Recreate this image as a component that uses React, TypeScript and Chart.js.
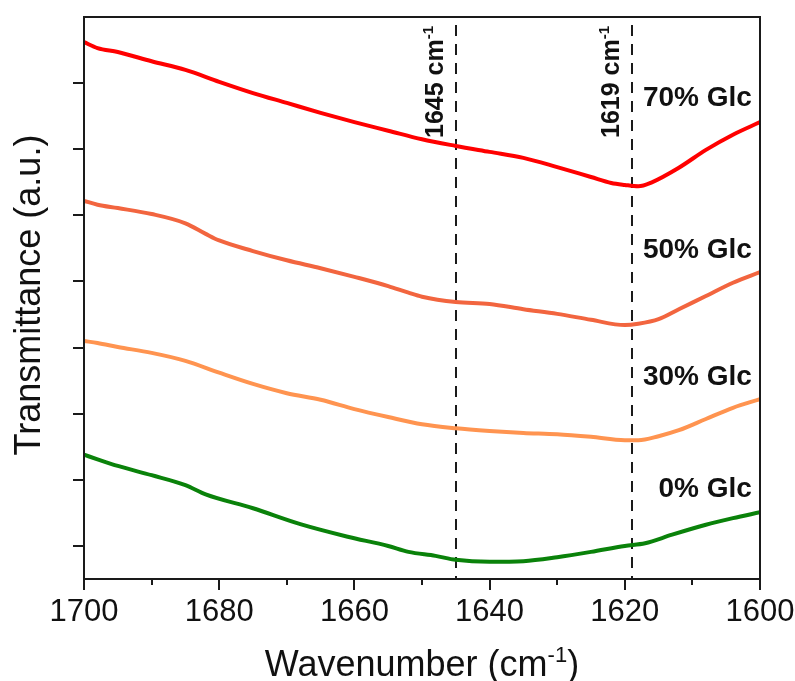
import React, { useEffect, useRef } from "react";
import { Chart, registerables } from "chart.js";

Chart.register(...registerables);

const FONT = "'Liberation Sans', Arial, Helvetica, sans-serif";

// FTIR spectra, amide I region (transmittance, arbitrary offset units)
const wn70 = [1700, 1698, 1695, 1690, 1685, 1680, 1675, 1670, 1665, 1660, 1655, 1650, 1645, 1640, 1635, 1630, 1625, 1622, 1620, 1618, 1616, 1612, 1608, 1604, 1600];
const t70 = [7.62, 7.53, 7.47, 7.33, 7.2, 7.02, 6.85, 6.7, 6.55, 6.41, 6.28, 6.15, 6.05, 5.96, 5.87, 5.73, 5.58, 5.49, 5.46, 5.44, 5.5, 5.72, 5.99, 6.22, 6.41];

const wn50 = [1700, 1698, 1695, 1690, 1685, 1682, 1680, 1675, 1670, 1665, 1660, 1655, 1652, 1650, 1645, 1640, 1635, 1630, 1625, 1620, 1618, 1615, 1612, 1608, 1604, 1600];
const t50 = [5.22, 5.16, 5.11, 5.02, 4.88, 4.72, 4.62, 4.46, 4.32, 4.2, 4.07, 3.93, 3.83, 3.77, 3.69, 3.66, 3.58, 3.51, 3.42, 3.34, 3.36, 3.43, 3.58, 3.78, 3.98, 4.14];

const wn30 = [1700, 1698, 1695, 1690, 1685, 1680, 1675, 1670, 1665, 1660, 1655, 1650, 1645, 1640, 1635, 1630, 1625, 1620, 1618, 1615, 1612, 1608, 1604, 1600];
const t30 = [3.1, 3.07, 3.01, 2.92, 2.8, 2.62, 2.45, 2.31, 2.21, 2.07, 1.95, 1.84, 1.78, 1.74, 1.71, 1.69, 1.65, 1.6, 1.6, 1.66, 1.75, 1.92, 2.09, 2.22];

const wn0 = [1700, 1698, 1695, 1690, 1685, 1682, 1675, 1668, 1661, 1655, 1652, 1648, 1645, 1640, 1635, 1630, 1625, 1620, 1617, 1613, 1608, 1604, 1600];
const t0 = [1.38, 1.31, 1.21, 1.07, 0.92, 0.78, 0.57, 0.33, 0.14, 0.0, -0.09, -0.15, -0.21, -0.24, -0.23, -0.17, -0.09, 0.0, 0.04, 0.17, 0.32, 0.42, 0.51];

const seriesNames = ["70% Glc", "50% Glc", "30% Glc", "0% Glc"];
const seriesColors = ["#FF0000", "#F2653F", "#FF9450", "#0A820A"];
const seriesWn = [wn70, wn50, wn30, wn0];
const seriesT = [t70, t50, t30, t0];

// where each series name sits (wavenumber of right edge, transmittance of baseline)
const labelWn = [1601.2, 1601.2, 1601.2, 1601.2];
const labelT = [6.65, 4.35, 2.43, 0.74];

// marked band positions
const markerWn = [1645, 1619];
const markerText = ["1645 cm", "1619 cm"];
const markerTop = 7.88;
const markerLabelT = 6.17;

// axes
const xMin = 1600;
const xMax = 1700;
const xMajorStep = 20;
const xMinorStep = 10;
const yMin = -0.5;
const yMax = 8;
const yTicks = [0, 1, 2, 3, 4, 5, 6, 7];

const xTitle = "Wavenumber (cm";
const xTitleSup = "-1";
const yTitle = "Transmittance (a.u.)";

function drawSup(ctx: CanvasRenderingContext2D, main: string, sup: string, tail: string, size: number, weight: string, x: number, y: number, align: "left" | "center") {
  const supSize = Math.round(size * 0.6);
  ctx.font = `${weight} ${size}px ${FONT}`;
  const wMain = ctx.measureText(main).width;
  const wTail = ctx.measureText(tail).width;
  ctx.font = `${weight} ${supSize}px ${FONT}`;
  const wSup = ctx.measureText(sup).width;
  const total = wMain + wSup + wTail;
  const sx = align === "center" ? x - total / 2 : x;
  ctx.textAlign = "left";
  ctx.textBaseline = "alphabetic";
  ctx.font = `${weight} ${size}px ${FONT}`;
  ctx.fillText(main, sx, y);
  ctx.font = `${weight} ${supSize}px ${FONT}`;
  ctx.fillText(sup, sx + wMain, y - size * 0.4);
  ctx.font = `${weight} ${size}px ${FONT}`;
  ctx.fillText(tail, sx + wMain + wSup, y);
}

const decorPlugin = {
  id: "decor",
  beforeDatasetsDraw(chart: any) {
    const { ctx, chartArea, scales } = chart;
    const xs = scales.x;
    const ys = scales.y;
    ctx.save();
    ctx.strokeStyle = "#1a1a1a";
    ctx.lineWidth = 2;
    ctx.setLineDash([11, 8]);
    markerWn.forEach((w) => {
      const x = Math.round(xs.getPixelForValue(w));
      ctx.beginPath();
      ctx.moveTo(x, ys.getPixelForValue(markerTop));
      ctx.lineTo(x, chartArea.bottom);
      ctx.stroke();
    });
    ctx.restore();
  },
  afterDatasetsDraw(chart: any) {
    const { ctx, chartArea, scales } = chart;
    const xs = scales.x;
    const ys = scales.y;
    const { left, right, top, bottom } = chartArea;
    ctx.save();

    // frame
    ctx.strokeStyle = "#1a1a1a";
    ctx.lineWidth = 2;
    ctx.setLineDash([]);
    ctx.strokeRect(left, top, right - left, bottom - top);

    // y ticks (outward)
    ctx.beginPath();
    yTicks.forEach((v) => {
      const y = Math.round(ys.getPixelForValue(v));
      ctx.moveTo(left - 11, y);
      ctx.lineTo(left, y);
    });
    // x ticks: long at labelled values, short in between
    for (let w = xMin; w <= xMax; w += xMinorStep) {
      const x = Math.round(xs.getPixelForValue(w));
      const len = w % xMajorStep === 0 ? 11 : 6;
      ctx.moveTo(x, bottom);
      ctx.lineTo(x, bottom + len);
    }
    ctx.stroke();

    // band labels, reading upward beside each dashed line
    ctx.fillStyle = "#111";
    markerWn.forEach((w, i) => {
      const x = xs.getPixelForValue(w) - 13;
      const y = ys.getPixelForValue(markerLabelT);
      ctx.save();
      ctx.translate(x, y);
      ctx.rotate(-Math.PI / 2);
      drawSup(ctx, markerText[i], "-1", "", 25, "bold", 0, 0, "left");
      ctx.restore();
    });

    // series names
    ctx.font = `bold 28px ${FONT}`;
    ctx.textAlign = "right";
    ctx.textBaseline = "alphabetic";
    seriesNames.forEach((n, i) => {
      ctx.fillText(n, xs.getPixelForValue(labelWn[i]), ys.getPixelForValue(labelT[i]));
    });

    // axis titles
    drawSup(ctx, xTitle, xTitleSup, ")", 36, "normal", (left + right) / 2, 676, "center");
    ctx.save();
    ctx.translate(40, (top + bottom) / 2 - 3);
    ctx.rotate(-Math.PI / 2);
    ctx.font = `normal 36px ${FONT}`;
    ctx.textAlign = "center";
    ctx.textBaseline = "alphabetic";
    ctx.fillText(yTitle, 0, 0);
    ctx.restore();

    ctx.restore();
  },
};

export default function App() {
  const ref = useRef<HTMLCanvasElement | null>(null);

  useEffect(() => {
    if (!ref.current) return;
    const chart = new Chart(ref.current, {
      type: "line",
      data: {
        datasets: seriesNames.map((name, i) => ({
          label: name,
          data: seriesWn[i].map((w, j) => ({ x: w, y: seriesT[i][j] })),
          borderColor: seriesColors[i],
          backgroundColor: seriesColors[i],
          borderWidth: 4,
          pointRadius: 0,
          cubicInterpolationMode: "monotone" as const,
          fill: false,
        })),
      },
      options: {
        responsive: false,
        animation: false,
        layout: { padding: { top: 17, right: 35, left: 0, bottom: 0 } },
        plugins: {
          legend: { display: false },
          tooltip: { enabled: false },
        },
        scales: {
          x: {
            type: "linear",
            reverse: true,
            min: xMin,
            max: xMax,
            grid: { display: false, drawTicks: true, tickLength: 11 },
            border: { display: false },
            ticks: {
              stepSize: xMinorStep,
              autoSkip: false,
              maxRotation: 0,
              padding: 4,
              color: "#111",
              font: { family: FONT, size: 31 },
              callback: (v: any) => (Number(v) % xMajorStep === 0 ? String(v) : ""),
            },
            afterFit: (s: any) => {
              s.height = 102;
              s.paddingLeft = 0;
              s.paddingRight = 0;
            },
          },
          y: {
            type: "linear",
            min: yMin,
            max: yMax,
            grid: { display: false, drawTicks: false },
            border: { display: false },
            ticks: { display: false, stepSize: 1 },
            afterFit: (s: any) => {
              s.width = 84;
              s.paddingTop = 0;
              s.paddingBottom = 0;
            },
          },
        },
      },
      plugins: [decorPlugin],
    });
    return () => chart.destroy();
  }, []);

  return (
    <div style={{ position: "absolute", left: 0, top: 0, width: 795, height: 681, background: "#fff" }}>
      <canvas ref={ref} width={795} height={681} style={{ display: "block" }} />
    </div>
  );
}
